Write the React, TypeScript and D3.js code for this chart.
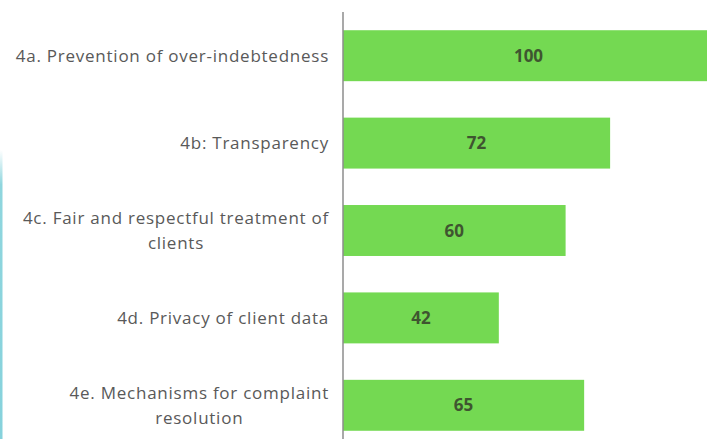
import {useRef, useEffect} from 'react'
import * as d3 from 'd3'

// chart data
const categories = [
    "4a. Prevention of over-indebtedness",
    "4b: Transparency",
    "4c. Fair and respectful treatment of|clients",
    "4d. Privacy of client data",
    "4e. Mechanisms for complaint|resolution"
]
const values = [100, 72, 60, 42, 65]

export default function App() {
    const svgRef = useRef<SVGSVGElement>(null)

    const width = 707
    const height = 439
    const axisX = 343 // category axis position
    const labelRight = 329 // right edge of category labels

    useEffect(() => {
        const svg = d3.select(svgRef.current)
        svg.selectAll("*").remove()

        const x = d3.scaleLinear().domain([0, 100]).range([axisX, 714])
        const y = d3.scaleBand().domain(categories).range([12, 449]).paddingInner(0.417).paddingOuter(0.2085)

        // left decoration stripe
        const grad = svg.append("defs").append("linearGradient")
            .attr("id", "stripe").attr("x1", 0).attr("x2", 0).attr("y1", 0).attr("y2", 1)
        grad.append("stop").attr("offset", "0%").attr("stop-color", "#8fd6de").attr("stop-opacity", 0)
        grad.append("stop").attr("offset", "12%").attr("stop-color", "#8fd6de").attr("stop-opacity", 1)
        grad.append("stop").attr("offset", "100%").attr("stop-color", "#86d2dc").attr("stop-opacity", 1)
        svg.append("rect")
            .attr("x", 0).attr("y", 150).attr("width", 2.5).attr("height", height - 150)
            .attr("fill", "url(#stripe)")

        // bars
        svg.append("g").selectAll("rect")
            .data(values)
            .join("rect")
            .attr("x", x(0))
            .attr("y", (d, i) => y(categories[i])!)
            .attr("width", d => x(d) - x(0))
            .attr("height", y.bandwidth())
            .attr("fill", "#74d952")

        // value labels
        svg.append("g").selectAll("text")
            .data(values)
            .join("text")
            .attr("x", d => (x(0) + x(d)) / 2)
            .attr("y", (d, i) => y(categories[i])! + y.bandwidth() / 2)
            .attr("dy", "0.36em")
            .attr("text-anchor", "middle")
            .style("font-family", "'Open Sans', sans-serif")
            .style("font-weight", "bold")
            .style("font-size", "17px")
            .style("fill", "#3f5530")
            .text(d => d)

        // category labels, wrapped lines centred as a block
        const lineGap = 25
        categories.forEach(cat => {
            const lines = cat.split("|")
            const cy = y(cat)! + y.bandwidth() / 2
            const g = svg.append("g")
            const texts = lines.map((ln, j) => g.append("text")
                .attr("y", cy + (j - (lines.length - 1) / 2) * lineGap)
                .attr("dy", "0.36em")
                .attr("text-anchor", "middle")
                .style("font-family", "'Open Sans', sans-serif")
                .style("font-size", "17px")
                .style("letter-spacing", "0.75px")
                .style("fill", "#595959")
                .text(ln))
            const maxW = d3.max(texts, t => (t.node() as SVGTextElement).getComputedTextLength()) || 0
            texts.forEach(t => t.attr("x", labelRight - maxW / 2))
        })

        // category axis line
        svg.append("line")
            .attr("x1", axisX).attr("x2", axisX)
            .attr("y1", 12).attr("y2", height)
            .style("stroke", "#8c8c8c")
            .style("stroke-width", 1.5)
    }, [])

    return (
        <svg ref={svgRef} width={width} height={height}
             style={{position: "absolute", left: 0, top: 0, background: "white"}}/>
    )
}
